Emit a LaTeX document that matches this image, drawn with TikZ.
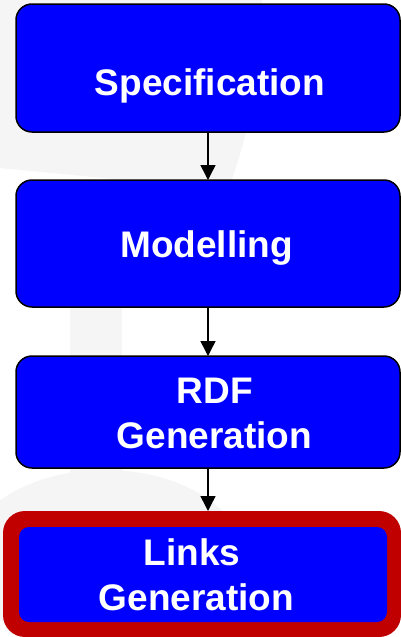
\documentclass[tikz,border=0pt]{standalone}
\usepackage{fontspec}
\setmainfont{Liberation Sans}
\usetikzlibrary{arrows.meta}
\definecolor{wm}{RGB}{245,245,245}
\definecolor{boxblue}{RGB}{0,0,255}
\definecolor{hired}{RGB}{192,0,0}
\begin{document}
\begin{tikzpicture}[x=1pt,y=-1pt,
  stagebox/.style={draw=black, line width=1.5pt, fill=boxblue, rounded corners=16pt,
    minimum width=384pt, inner sep=0pt, outer sep=0pt},
  stagetext/.style={anchor=base, text=white, inner sep=0pt,
    font=\bfseries\fontsize{37}{44}\selectfont},
  conn/.style={line width=1.5pt, -{Triangle[width=15pt,length=15pt]}}]
\useasboundingbox (0,0) rectangle (401,637);
\fill[white] (0,0) rectangle (401,637);
% faint watermark
\begin{scope}
\clip (0,0) rectangle (401,637);
\fill[wm] (-10,-10) -- (262,-10) .. controls (262,70) and (250,130) .. (228,190)
  -- (0,168) -- (-10,168) -- cycle;
\fill[wm] (70,240) rectangle (122,520);
\fill[wm] (105,560) ellipse [x radius=140, y radius=90];
\end{scope}
% boxes
\node[stagebox, minimum height=128pt] (spec) at (208,68) {};
\node[stagebox, minimum height=127pt] (model) at (208,243.5) {};
\node[stagebox, minimum height=112pt] (rdf) at (208,412) {};
\node[fill=hired, rounded corners=22pt, minimum width=398pt, minimum height=126pt,
  inner sep=0pt, outer sep=0pt] (links) at (202,574) {};
\node[fill=boxblue, rounded corners=10pt, minimum width=368pt, minimum height=95pt,
  inner sep=0pt, outer sep=0pt] (linksin) at (203,574.5) {};
% texts
\node[stagetext] (tspec) at (210,95) {Specification};
\node[stagetext] (tmodel) at (206.5,257) {Modelling};
\node[stagetext] (trdf1) at (215,403) {RDF};
\node[stagetext] (trdf2) at (214.5,448) {Generation};
\node[stagetext] (tlinks1) at (192,565) {Links};
\node[stagetext] (tlinks2) at (196.5,610) {Generation};
% connectors
\draw[conn] (spec.south) -- (model.north);
\draw[conn] (model.south) -- (rdf.north);
\draw[conn] (rdf.south) -- (rdf.south |- links.north);
\end{tikzpicture}
\end{document}
